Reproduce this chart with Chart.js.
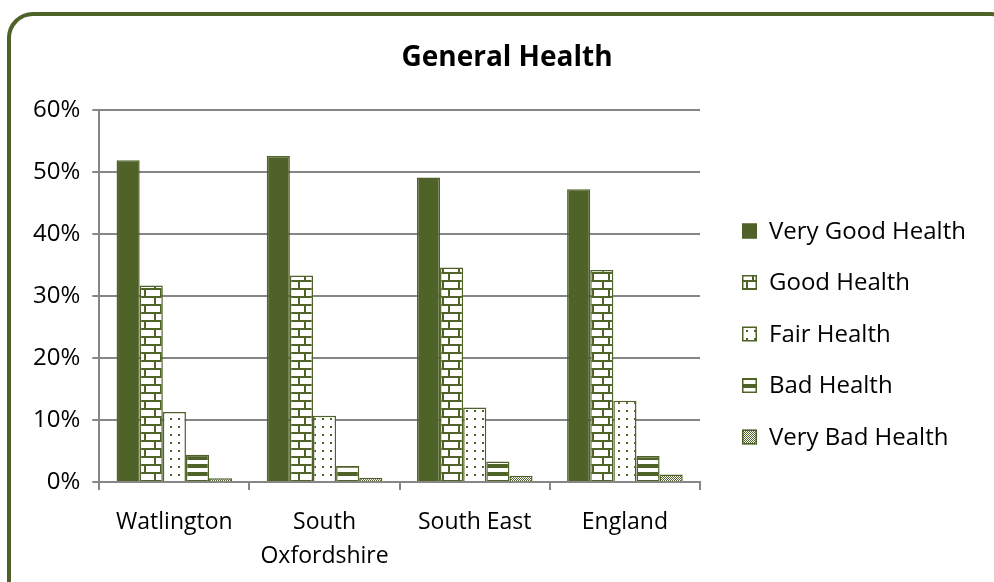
<!DOCTYPE html>
<html>
<head>
<meta charset="utf-8">
<script src="https://cdn.jsdelivr.net/npm/chart.js@4.4.1/dist/chart.umd.min.js"></script>
<style>
    html, body { margin: 0; padding: 0; background: #fff; }
    #wrap { position: relative; width: 994px; height: 582px; overflow: hidden; }
    #card {
        position: absolute; left: 7px; top: 12px; width: 1010px; height: 600px;
        border: 4px solid #4F6228; border-radius: 26px; box-sizing: border-box;
    }
    canvas { position: absolute; left: 0; top: 0; }
</style>
</head>
<body>
<div id="wrap">
    <div id="card"></div>
    <canvas id="chart" width="994" height="582"></canvas>
</div>
<script>
// ==================== DATA ====================
const CATEGORIES = ['Watlington', ['South', 'Oxfordshire'], 'South East', 'England'];
const SERIES_NAMES = ['Very Good Health', 'Good Health', 'Fair Health', 'Bad Health', 'Very Bad Health'];
const VERY_GOOD = [51.9, 52.6, 49.1, 47.2];
const GOOD = [31.7, 33.3, 34.6, 34.2];
const FAIR = [11.3, 10.7, 12.0, 13.1];
const BAD = [4.4, 2.6, 3.3, 4.2];
const VERY_BAD = [0.6, 0.7, 1.0, 1.2];
const Y_TICKS = [0, 10, 20, 30, 40, 50, 60];
const TITLE = 'General Health';

const GREEN = '#4F6228';
const FONT = "'Open Sans', sans-serif";

// ==================== PATTERNS ====================
function makePattern(w, h, draw) {
    const c = document.createElement('canvas');
    c.width = w; c.height = h;
    const g = c.getContext('2d');
    g.fillStyle = '#fff';
    g.fillRect(0, 0, w, h);
    g.fillStyle = GREEN;
    draw(g);
    return g.createPattern(c, 'repeat');
}

// brick: mortar every 8px, joints alternate per row
const brick = makePattern(16, 16, g => {
    g.fillRect(0, 0, 16, 2);
    g.fillRect(0, 8, 16, 2);
    g.fillRect(0, 0, 2, 8);
    g.fillRect(10, 8, 2, 8);
});
// sparse dots
const dots = makePattern(8, 8, g => {
    g.fillRect(2, 2, 2, 2);
});
// wide horizontal stripes
const stripes = makePattern(8, 8, g => {
    g.fillRect(0, 0, 8, 4);
});
// fine checker
const checker = makePattern(2, 2, g => {
    g.fillRect(0, 0, 1, 1);
    g.fillRect(1, 1, 1, 1);
});

const FILLS = [GREEN, brick, dots, stripes, checker];
const VALUES = [VERY_GOOD, GOOD, FAIR, BAD, VERY_BAD];

// title + legend drawn by hand so the plot can keep Excel's proportions
const sideLegend = {
    id: 'sideLegend',
    afterDraw(chart) {
        const c = chart.ctx;
        const area = chart.chartArea;
        c.save();
        c.fillStyle = '#000';
        c.textBaseline = 'middle';
        c.textAlign = 'center';
        c.font = `bold 28px ${FONT}`;
        c.fillText(TITLE, 507, 58);

        c.textAlign = 'left';
        c.font = `24px ${FONT}`;
        const x = area.right + 42;
        chart.data.datasets.forEach((ds, i) => {
            const y = 231 + i * 51.5;
            c.fillStyle = ds.backgroundColor;
            c.fillRect(x, y - 7.5, 15, 15);
            c.strokeStyle = GREEN;
            c.lineWidth = 1.5;
            c.strokeRect(x + 0.75, y - 6.75, 13.5, 13.5);
            c.fillStyle = '#000';
            c.fillText(ds.label, x + 27, y + 1);
        });
        c.restore();
    }
};

// ==================== CHART ====================
const ctx = document.getElementById('chart').getContext('2d');

new Chart(ctx, {
    type: 'bar',
    data: {
        labels: CATEGORIES,
        datasets: SERIES_NAMES.map((name, i) => ({
            label: name,
            data: VALUES[i],
            backgroundColor: FILLS[i],
            borderColor: GREEN,
            borderWidth: 1.5,
            categoryPercentage: 0.77,
            barPercentage: 1.0
        }))
    },
    options: {
        responsive: false,
        animation: false,
        layout: { padding: { left: 21, right: 294, top: 110, bottom: 0 } },
        plugins: {
            title: { display: false },
            legend: { display: false },
            tooltip: { enabled: false }
        },
        scales: {
            x: {
                afterFit: axis => { axis.height = 100; },
                grid: {
                    offset: true,
                    drawOnChartArea: false,
                    color: '#868686',
                    tickLength: 8,
                    lineWidth: 2
                },
                border: { color: '#868686', width: 2 },
                ticks: {
                    color: '#000',
                    font: { family: FONT, size: 23, lineHeight: 1.5 },
                    maxRotation: 0,
                    padding: 15
                }
            },
            y: {
                min: 0,
                max: 60,
                afterBuildTicks: axis => { axis.ticks = Y_TICKS.map(v => ({ value: v })); },
                grid: { color: '#868686', lineWidth: 2, tickLength: 7 },
                border: { color: '#868686', width: 2 },
                ticks: {
                    color: '#000',
                    font: { family: FONT, size: 24 },
                    padding: 12,
                    callback: v => v + '%'
                }
            }
        }
    },
    plugins: [sideLegend]
});
</script>
</body>
</html>
